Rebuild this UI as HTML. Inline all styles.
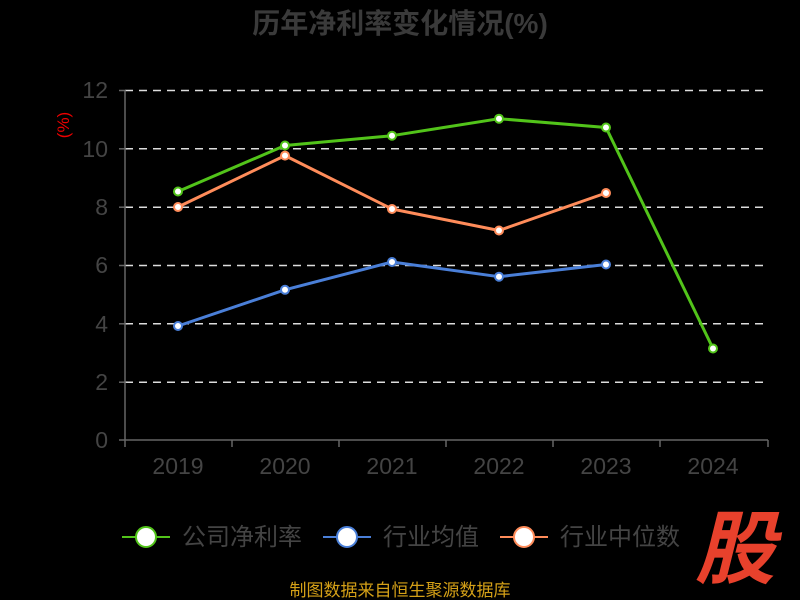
<!DOCTYPE html>
<html><head><meta charset="utf-8"><style>
html,body{margin:0;padding:0;background:#000;}
svg{display:block;font-family:"Liberation Sans","Noto Sans CJK SC",sans-serif;}
</style></head><body>
<svg width="800" height="600" viewBox="0 0 800 600">
<rect width="800" height="600" fill="#000"/>
<text x="400" y="33" text-anchor="middle" font-size="28" font-weight="bold" fill="#3a3a3a">历年净利率变化情况(%)</text>
<g stroke="#ddd" stroke-width="1.5" stroke-dasharray="8,6">
<line x1="125" y1="90.5" x2="768" y2="90.5"/>
<line x1="125" y1="148.8" x2="768" y2="148.8"/>
<line x1="125" y1="207.2" x2="768" y2="207.2"/>
<line x1="125" y1="265.5" x2="768" y2="265.5"/>
<line x1="125" y1="323.8" x2="768" y2="323.8"/>
<line x1="125" y1="382.2" x2="768" y2="382.2"/>
</g>
<g stroke="#666" stroke-width="1.5">
<line x1="125" y1="90" x2="125" y2="440"/>
<line x1="125" y1="440" x2="768" y2="440"/>
<line x1="119" y1="90.5" x2="125" y2="90.5"/><line x1="119" y1="148.8" x2="125" y2="148.8"/>
<line x1="119" y1="207.2" x2="125" y2="207.2"/><line x1="119" y1="265.5" x2="125" y2="265.5"/>
<line x1="119" y1="323.8" x2="125" y2="323.8"/><line x1="119" y1="382.2" x2="125" y2="382.2"/>
<line x1="119" y1="440" x2="125" y2="440"/>
<line x1="125" y1="440" x2="125" y2="447"/><line x1="232" y1="440" x2="232" y2="447"/>
<line x1="339" y1="440" x2="339" y2="447"/><line x1="446" y1="440" x2="446" y2="447"/>
<line x1="553" y1="440" x2="553" y2="447"/><line x1="660" y1="440" x2="660" y2="447"/>
<line x1="768" y1="440" x2="768" y2="447"/>
</g>
<g font-size="23" fill="#444" text-anchor="end">
<text x="108" y="98">12</text><text x="108" y="157">10</text><text x="108" y="215">8</text>
<text x="108" y="273">6</text><text x="108" y="332">4</text><text x="108" y="390">2</text><text x="108" y="448">0</text>
</g>
<g font-size="23" fill="#444" text-anchor="middle">
<text x="178" y="474">2019</text><text x="285" y="474">2020</text><text x="392" y="474">2021</text>
<text x="499" y="474">2022</text><text x="606" y="474">2023</text><text x="713" y="474">2024</text>
</g>
<text transform="translate(69,125) rotate(-90)" font-size="17" fill="#e00" text-anchor="middle">(%)</text>
<g fill="none" stroke-width="3" stroke-linejoin="round">
<polyline stroke="#4a7fd8" points="178,326 285,289.8 392,262 499,276.7 606,264.5"/>
<polyline stroke="#ff8c5a" points="178,207 285,155.6 392,209 499,230.5 606,193"/>
<polyline stroke="#52c41a" points="178,191.5 285,145.5 392,135.7 499,118.7 606,127.5 713,348.5"/>
</g>
<g fill="#fff" stroke-width="2">
<g stroke="#4a7fd8"><circle cx="178" cy="326" r="4"/><circle cx="285" cy="289.8" r="4"/><circle cx="392" cy="262" r="4"/><circle cx="499" cy="276.7" r="4"/><circle cx="606" cy="264.5" r="4"/></g>
<g stroke="#ff8c5a"><circle cx="178" cy="207" r="4"/><circle cx="285" cy="155.6" r="4"/><circle cx="392" cy="209" r="4"/><circle cx="499" cy="230.5" r="4"/><circle cx="606" cy="193" r="4"/></g>
<g stroke="#52c41a"><circle cx="178" cy="191.5" r="4"/><circle cx="285" cy="145.5" r="4"/><circle cx="392" cy="135.7" r="4"/><circle cx="499" cy="118.7" r="4"/><circle cx="606" cy="127.5" r="4"/><circle cx="713" cy="348.5" r="4"/></g>
</g>
<g font-size="24" fill="#444">
<line x1="122" y1="537" x2="170" y2="537" stroke="#52c41a" stroke-width="2"/>
<circle cx="146" cy="537" r="10" fill="#fff" stroke="#52c41a" stroke-width="2"/>
<text x="182" y="545">公司净利率</text>
<line x1="323" y1="537" x2="371" y2="537" stroke="#4a7fd8" stroke-width="2"/>
<circle cx="347" cy="537" r="10" fill="#fff" stroke="#4a7fd8" stroke-width="2"/>
<text x="383" y="545">行业均值</text>
<line x1="500" y1="537" x2="548" y2="537" stroke="#ff8c5a" stroke-width="2"/>
<circle cx="524" cy="537" r="10" fill="#fff" stroke="#ff8c5a" stroke-width="2"/>
<text x="560" y="545">行业中位数</text>
</g>
<text x="735" y="577" text-anchor="middle" font-size="80" font-weight="bold" font-style="italic" fill="#e8412c">股</text>
<text x="400" y="596" text-anchor="middle" font-size="17" fill="#d4a017">制图数据来自恒生聚源数据库</text>
</svg>
</body></html>
